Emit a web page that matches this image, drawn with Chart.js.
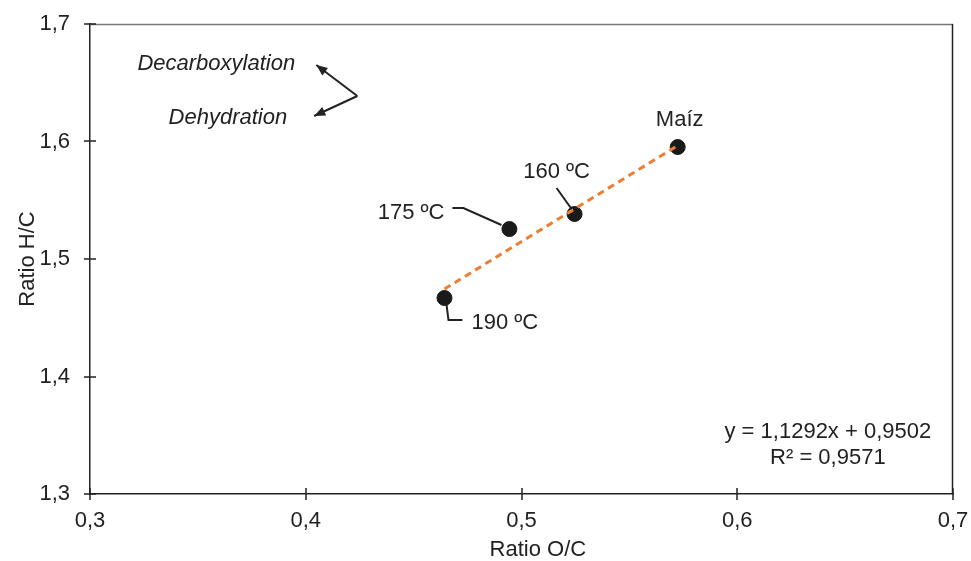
<!DOCTYPE html>
<html>
<head>
<meta charset="utf-8">
<script src="https://cdn.jsdelivr.net/npm/chart.js@4"></script>
<style>
  html, body { margin: 0; padding: 0; background: #fff; }
  #wrap { width: 971px; height: 561px; }
</style>
</head>
<body>
<div id="wrap"><canvas id="vk"></canvas></div>
<script>
const pointNames = ["Maíz", "160 ºC", "175 ºC", "190 ºC"];
const ratioOC = [0.5724, 0.5246, 0.4944, 0.4643];
const ratioHC = [1.5953, 1.5383, 1.5255, 1.4668];
const slope = 1.1292, intercept = 0.9502;
const eqText = ["y = 1,1292x + 0,9502", "R² = 0,9571"];
const xTicks = [0.3, 0.4, 0.5, 0.6, 0.7];
const yTicks = [1.3, 1.4, 1.5, 1.6, 1.7];

const fmt = v => v.toFixed(1).replace(".", ",");
const FONT = "Liberation Sans, Arial, sans-serif";
const FS = 22;

const xMin = Math.min(...ratioOC), xMax = Math.max(...ratioOC);
const trend = [
  { x: xMin, y: slope * xMin + intercept },
  { x: xMax, y: slope * xMax + intercept }
];

// frame, crossing ticks, leader lines and labels
const decor = {
  id: "decor",
  afterDraw(chart) {
    const { ctx, scales: { x, y }, chartArea: a } = chart;
    ctx.save();
    ctx.lineWidth = 1.5;

    ctx.strokeStyle = "#777";
    ctx.beginPath();
    ctx.moveTo(a.left, a.top + 0.5); ctx.lineTo(a.right, a.top + 0.5);
    ctx.stroke();
    ctx.strokeStyle = "#222";
    ctx.beginPath();
    ctx.moveTo(a.right - 0.5, a.top); ctx.lineTo(a.right - 0.5, a.bottom);
    xTicks.forEach(t => { const px = Math.round(x.getPixelForValue(t)); ctx.moveTo(px, a.bottom - 6); ctx.lineTo(px, a.bottom + 6); });
    yTicks.forEach(t => { const py = Math.round(y.getPixelForValue(t)); ctx.moveTo(a.left - 6, py); ctx.lineTo(a.left + 6, py); });
    ctx.stroke();

    ctx.fillStyle = "#222";
    ctx.font = FS + "px " + FONT;
    ctx.textBaseline = "middle";

    // x axis title (sits a little right of centre in the original)
    ctx.textAlign = "center";
    ctx.fillText("Ratio O/C", a.left + (a.right - a.left) * 0.519, 550);

    ctx.lineWidth = 2;
    const P = i => ({ px: x.getPixelForValue(ratioOC[i]), py: y.getPixelForValue(ratioHC[i]) });

    let p = P(0);
    ctx.fillText(pointNames[0], p.px + 2, p.py - 27);

    p = P(1);
    ctx.beginPath(); ctx.moveTo(p.px - 18, p.py - 26); ctx.lineTo(p.px - 3, p.py - 5); ctx.stroke();
    ctx.fillText(pointNames[1], p.px - 18, p.py - 42);

    p = P(2);
    ctx.beginPath(); ctx.moveTo(p.px - 57, p.py - 21); ctx.lineTo(p.px - 46, p.py - 21); ctx.lineTo(p.px - 8, p.py - 4); ctx.stroke();
    ctx.textAlign = "right";
    ctx.fillText(pointNames[2], p.px - 65, p.py - 16);

    p = P(3);
    ctx.beginPath(); ctx.moveTo(p.px + 2, p.py + 6); ctx.lineTo(p.px + 4, p.py + 22); ctx.lineTo(p.px + 18, p.py + 22); ctx.stroke();
    ctx.textAlign = "left";
    ctx.fillText(pointNames[3], p.px + 27, p.py + 25);

    ctx.textAlign = "center";
    const ex = x.getPixelForValue(0.642);
    ctx.fillText(eqText[0], ex, y.getPixelForValue(1.3528));
    ctx.fillText(eqText[1], ex, y.getPixelForValue(1.3306));

    ctx.font = "italic " + FS + "px " + FONT;
    ctx.textAlign = "right";
    ctx.fillText("Decarboxylation", x.getPixelForValue(0.3951), y.getPixelForValue(1.666));
    ctx.fillText("Dehydration", x.getPixelForValue(0.3914), y.getPixelForValue(1.620));
    const vx = x.getPixelForValue(0.4239), vy = y.getPixelForValue(1.6387);
    const heads = [[0.4049, 1.6651], [0.4039, 1.6217]];
    heads.forEach(([hx, hy]) => {
      const tx = x.getPixelForValue(hx), ty = y.getPixelForValue(hy);
      ctx.beginPath(); ctx.moveTo(vx, vy); ctx.lineTo(tx, ty); ctx.stroke();
      const ang = Math.atan2(ty - vy, tx - vx);
      ctx.beginPath();
      ctx.moveTo(tx, ty);
      ctx.lineTo(tx - 12 * Math.cos(ang - 0.4), ty - 12 * Math.sin(ang - 0.4));
      ctx.lineTo(tx - 12 * Math.cos(ang + 0.4), ty - 12 * Math.sin(ang + 0.4));
      ctx.closePath();
      ctx.fill();
    });
    ctx.restore();
  }
};

new Chart(document.getElementById("vk").getContext("2d"), {
  type: "scatter",
  data: {
    datasets: [
      {
        label: "Trend",
        type: "line",
        data: trend,
        borderColor: "#ED7D31",
        borderWidth: 3,
        borderDash: [7, 5],
        pointRadius: 0,
        fill: false
      },
      {
        label: "Samples",
        data: ratioOC.map((v, i) => ({ x: v, y: ratioHC[i] })),
        backgroundColor: "#1a1a1a",
        borderColor: "#1a1a1a",
        pointRadius: 7.5,
        pointHoverRadius: 7.5
      }
    ]
  },
  options: {
    responsive: true,
    maintainAspectRatio: false,
    animation: false,
    layout: { padding: { top: 24, right: 18, left: 11, bottom: 0 } },
    plugins: { legend: { display: false }, tooltip: { enabled: false } },
    scales: {
      x: {
        type: "linear",
        min: 0.3, max: 0.7,
        afterBuildTicks: s => { s.ticks = xTicks.map(v => ({ value: v })); },
        ticks: { callback: fmt, color: "#222", font: { family: FONT, size: FS }, padding: 14, maxRotation: 0 },
        grid: { drawOnChartArea: false, drawTicks: false },
        border: { color: "#222", width: 1.5 },
        title: { display: false },
        afterFit: s => { s.height = 67; s.paddingLeft = 0; s.paddingRight = 0; }
      },
      y: {
        type: "linear",
        min: 1.3, max: 1.7,
        afterBuildTicks: s => { s.ticks = yTicks.map(v => ({ value: v })); },
        ticks: { callback: fmt, color: "#222", font: { family: FONT, size: FS }, padding: 20 },
        grid: { drawOnChartArea: false, drawTicks: false },
        border: { color: "#222", width: 1.5 },
        title: { display: true, text: "Ratio H/C", color: "#222", font: { family: FONT, size: FS }, padding: { bottom: 4 } },
        afterFit: s => { s.width = 79; s.paddingTop = 0; s.paddingBottom = 0; }
      }
    }
  },
  plugins: [decor]
});
</script>
</body>
</html>
